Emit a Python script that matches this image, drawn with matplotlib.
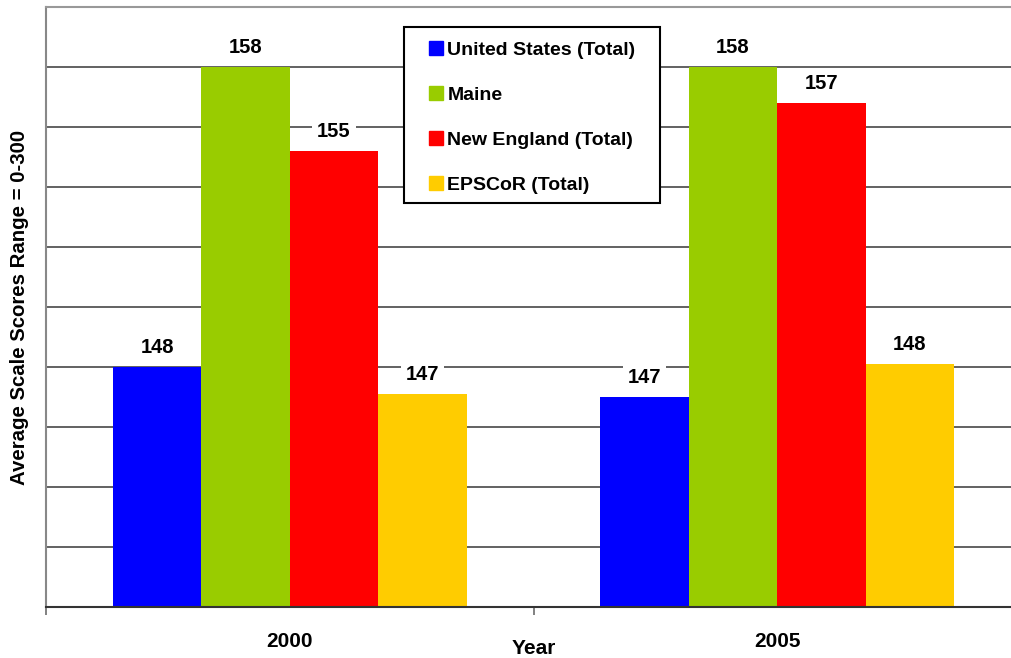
import numpy as np
import matplotlib
matplotlib.use("Agg")
import matplotlib.pyplot as plt
from matplotlib.lines import Line2D
from matplotlib.patches import Rectangle

plt.rcParams['font.family'] = ['Liberation Sans', 'DejaVu Sans']
plt.rcParams['font.weight'] = 'bold'

# data
years = ["2000", "2005"]
series_names = ["United States (Total)", "Maine", "New England (Total)", "EPSCoR (Total)"]
us_total = [148.0, 147.0]
maine = [158.0, 158.0]
new_england = [155.2, 156.8]
epscor = [147.1, 148.1]
series_values = [us_total, maine, new_england, epscor]
colors = ["#0000FF", "#99CC00", "#FF0000", "#FFCC00"]

fig = plt.figure(figsize=(10.11, 6.58), dpi=100)
ax = fig.add_axes([46 / 1011, 51 / 658, 975 / 1011, 600 / 658])

x = np.arange(len(years))
w = 0.1815
for i, vals in enumerate(series_values):
    pos = x + (i - 1.5) * w
    ax.bar(pos, vals, width=w, color=colors[i], zorder=2)
    for px, v in zip(pos, vals):
        ax.annotate("{:.0f}".format(v), (px, v), xytext=(0, 14), textcoords="offset points",
                    ha="center", va="center", fontsize=14.5, fontweight="bold", zorder=4,
                    bbox=dict(boxstyle="square,pad=0.25", fc="white", ec="none"))

ax.set_xlim(-0.5, 1.5)
ax.set_ylim(140, 160)
ax.set_yticks(np.arange(140, 161, 2))
ax.yaxis.grid(True, color="#555555", linewidth=1.3, zorder=0)
ax.set_axisbelow(True)
ax.tick_params(axis="y", length=0, labelleft=False)

ax.set_xticks(x)
ax.set_xticklabels(years, fontsize=15, fontweight="bold")
ax.tick_params(axis="x", which="major", length=0, pad=18)
ax.set_xticks([-0.5, 0.5, 1.5], minor=True)
ax.tick_params(axis="x", which="minor", length=6, width=1.3, color="#777777", direction="out")

ax.spines["right"].set_visible(False)
ax.spines["top"].set_color("#999999")
ax.spines["top"].set_linewidth(1.5)
ax.spines["left"].set_color("#888888")
ax.spines["left"].set_linewidth(1.5)
ax.spines["bottom"].set_color("#333333")
ax.spines["bottom"].set_linewidth(1.5)

ax.set_ylabel("Average Scale Scores Range = 0-300", fontsize=14.7, fontweight="bold", labelpad=12)
ax.set_xlabel("Year", fontsize=15, fontweight="bold")
ax.xaxis.set_label_coords(0.5, -0.054)

# legend box drawn separately, entries on top
fig.patches.append(Rectangle((404 / 1011, 1 - 203 / 658), 256 / 1011, 176 / 658,
                             transform=fig.transFigure, facecolor="white",
                             edgecolor="black", linewidth=1.5, zorder=5))
handles = [Line2D([], [], linestyle="none", marker="s", markersize=9.4,
                  markerfacecolor=c, markeredgecolor=c) for c in colors]
leg = fig.legend(handles, series_names, loc="upper left",
                 bbox_to_anchor=(427 / 1011, 1 - 41 / 658), bbox_transform=fig.transFigure,
                 frameon=False, borderpad=0, borderaxespad=0, handlelength=0.9,
                 handletextpad=0.15, labelspacing=1.41,
                 prop={"size": 14, "weight": "bold"})
leg.set_zorder(6)

fig.savefig("out.png", dpi=100)
